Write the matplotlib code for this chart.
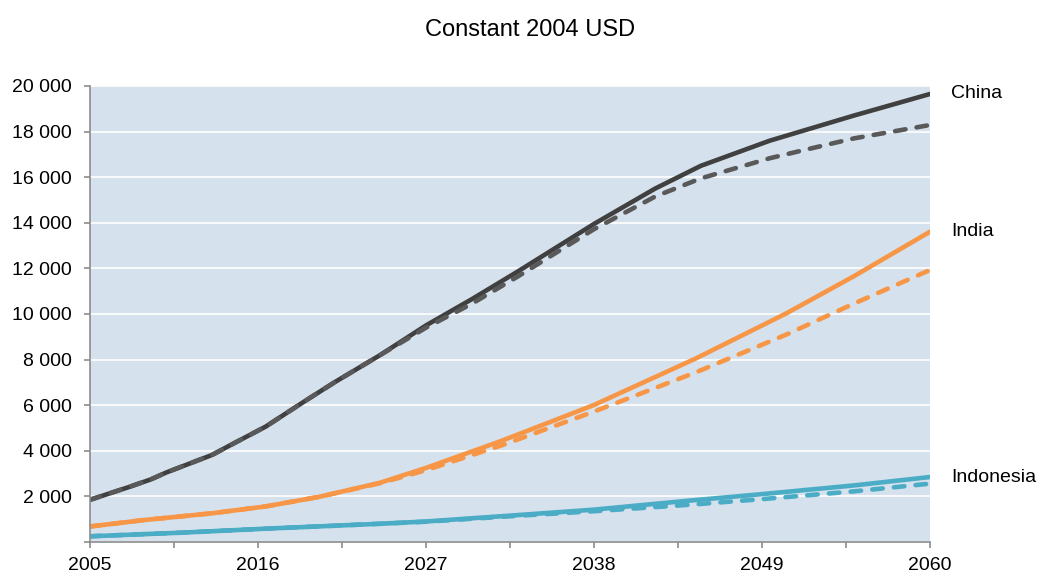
import matplotlib
matplotlib.use("Agg")
import matplotlib.pyplot as plt

plt.rcParams['font.family'] = ['Liberation Sans', 'DejaVu Sans']

years_ch = [2005, 2007.5, 2009, 2010, 2013, 2014, 2016.5, 2019, 2021, 2024, 2027, 2030,
            2033, 2038, 2042, 2045, 2049.5, 2051.5, 2055, 2060]
china_solid = [1850, 2400, 2750, 3050, 3820, 4180, 5060, 6150, 7000, 8200, 9500, 10650,
               11860, 13950, 15500, 16500, 17600, 18000, 18700, 19650]
china_dash = [1850, 2400, 2750, 3050, 3820, 4180, 5060, 6150, 7000, 8200, 9400, 10450,
              11640, 13720, 15150, 15950, 16830, 17150, 17700, 18290]

years_in = [2005, 2008.5, 2013, 2016.5, 2020, 2024, 2027, 2032, 2038, 2044.7, 2050.6, 2055, 2060]
india_solid = [680, 960, 1260, 1560, 1980, 2600, 3250, 4450, 6010, 8060, 10030, 11650, 13610]
india_dash = [680, 960, 1260, 1560, 1980, 2580, 3150, 4250, 5720, 7450, 9100, 10450, 11930]

years_id = [2005, 2011, 2017, 2024, 2027, 2033, 2038, 2044, 2049, 2055, 2060]
indo_solid = [250, 410, 600, 800, 900, 1180, 1420, 1800, 2100, 2480, 2850]
indo_dash = [250, 410, 600, 800, 890, 1150, 1350, 1620, 1880, 2220, 2560]

xticks_labeled = [2005, 2016, 2027, 2038, 2049, 2060]
yticks = list(range(0, 20001, 2000))

c_china = '#404040'
c_china_d = '#595959'
c_india = '#f79646'
c_indo = '#4bacc6'

fig = plt.figure(figsize=(10.41, 5.74), dpi=100)
ax = fig.add_axes([90/1041, 1-542/574, (930-90)/1041, (542-86)/574])
ax.set_facecolor('#d5e1ec')

lw = 3.3
dash = (2.3, 2.45)
ax.plot(years_ch, china_solid, color=c_china, lw=lw, solid_capstyle='round')
ax.plot(years_ch, china_dash, color=c_china_d, lw=lw, dashes=dash, dash_capstyle='round')
ax.plot(years_in, india_solid, color=c_india, lw=lw, solid_capstyle='round')
ax.plot(years_in, india_dash, color=c_india, lw=lw, dashes=dash, dash_capstyle='round')
ax.plot(years_id, indo_solid, color=c_indo, lw=lw, solid_capstyle='round')
ax.plot(years_id, indo_dash, color=c_indo, lw=lw, dashes=dash, dash_capstyle='round')

ax.set_xlim(2005, 2060)
ax.set_ylim(0, 20000)
ticks = [2005 + 5.5*i for i in range(11)]
ax.set_xticks(ticks)
ax.set_xticklabels([str(int(t)) if t in xticks_labeled else '' for t in ticks], fontsize=14)
ax.set_yticks(yticks)
ax.set_yticklabels(['' if v == 0 else f"{v:,}".replace(',', ' ') for v in yticks], fontsize=14)
ax.yaxis.grid(True, color='white', lw=1.2)
ax.set_axisbelow(True)
for s in ['top', 'right']:
    ax.spines[s].set_visible(False)
for s in ['left', 'bottom']:
    ax.spines[s].set_color('#8c8c8c')
    ax.spines[s].set_linewidth(1.2)
ax.tick_params(axis='both', direction='out', length=4, color='#8c8c8c', width=1.2)
ax.tick_params(axis='x', pad=7)
ax.tick_params(axis='y', pad=9)

for name, val in [('China', china_solid[-1]), ('India', india_solid[-1]), ('Indonesia', indo_solid[-1])]:
    ax.annotate(name, xy=(2060, val), xytext=(15, 0), textcoords='offset points',
                va='center', ha='left', fontsize=14, annotation_clip=False)

fig.text(530/1041, 1-30/574, 'Constant 2004 USD', ha='center', va='center', fontsize=17)

fig.savefig('out.png', dpi=100)
